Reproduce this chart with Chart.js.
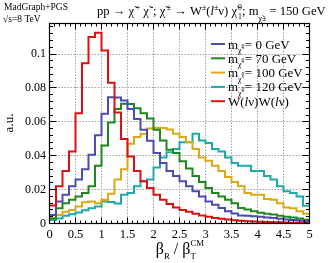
<!DOCTYPE html>
<html><head><meta charset="utf-8">
<script src="https://cdn.jsdelivr.net/npm/chart.js@4.4.1/dist/chart.umd.min.js"></script>
<style>html,body{margin:0;padding:0;background:#fff;}canvas{display:block;}</style>
</head><body>
<canvas id="c" width="332" height="263"></canvas>
<script>
// ---- data ----
const binWidth = 0.125;
const xTickLabels = ['0','0.5','1','1.5','2','2.5','3','3.5','4','4.5','5'];
const yTickLabels = ['0','0.02','0.04','0.06','0.08','0.1'];
const legendMasses = ['0 GeV','70 GeV','100 GeV','120 GeV'];
const m0 = [0.005,0.013,0.017,0.022,0.026,0.032,0.0406,0.052,0.0647,0.0745,0.0743,0.0725,0.0676,0.0616,0.0553,0.0488,0.0416,0.0357,0.031,0.028,0.025,0.022,0.019,0.016,0.013,0.011,0.0092,0.0073,0.0059,0.0047,0.0046,0.0043,0.004,0.0036,0.0032,0.0028,0.0024,0.0021,0.0018,0.0015];
const m70 = [0.003,0.009,0.012,0.014,0.016,0.018,0.022,0.034,0.046,0.0596,0.0675,0.0706,0.0705,0.068,0.065,0.062,0.0553,0.049,0.0435,0.0416,0.0367,0.0325,0.028,0.0245,0.021,0.018,0.016,0.014,0.012,0.0092,0.0082,0.0073,0.0063,0.0058,0.0053,0.0045,0.004,0.0035,0.003,0.0022];
const m100 = [0.003,0.005,0.007,0.008,0.010,0.0125,0.013,0.012,0.014,0.0175,0.026,0.032,0.047,0.051,0.053,0.056,0.0565,0.0563,0.0555,0.053,0.051,0.048,0.044,0.039,0.037,0.034,0.031,0.0275,0.0245,0.022,0.018,0.017,0.017,0.0145,0.014,0.012,0.0095,0.009,0.0073,0.0058];
const m120 = [0.002,0.003,0.0045,0.0055,0.0065,0.0078,0.009,0.010,0.013,0.0127,0.0118,0.017,0.018,0.022,0.025,0.026,0.033,0.039,0.042,0.044,0.048,0.048,0.053,0.049,0.0475,0.044,0.0425,0.039,0.0357,0.034,0.034,0.031,0.031,0.028,0.026,0.022,0.019,0.018,0.016,0.0105];
const ww = [0.0106,0.022,0.031,0.0425,0.065,0.0945,0.110,0.1125,0.102,0.083,0.0655,0.0498,0.0396,0.031,0.025,0.021,0.017,0.014,0.0115,0.0095,0.008,0.007,0.0058,0.0047,0.004,0.0033,0.0028,0.0023,0.0019,0.0016,0.0014,0.0012,0.001,0.0009,0.0008,0.0007,0.0006,0.0005,0.0005,0.0004];

const COLORS = {m0:'#4b4bb0', m70:'#1e881e', m100:'#dca814', m120:'#1eaaaa', ww:'#dd1111'};
const FAM = "'Liberation Serif', 'Times New Roman', serif";

function histPoints(vals){
  const pts = vals.map((v,i)=>({x:i*binWidth, y:v}));
  pts.push({x:vals.length*binWidth, y:vals[vals.length-1]});
  return pts;
}

function drawRich(ctx, parts, x, y, size, align, measureOnly){
  const fnt = p => {
    const small = (p.s==='sub'||p.s==='sup');
    const sz = small ? size*(p.r||0.62) : size;
    return (p.i?'italic ':'') + sz + 'px ' + FAM;
  };
  let w = 0; const xs = [];
  for (const p of parts){
    ctx.font = fnt(p);
    w += (p.g||0)*size;
    xs.push(w);
    if (!p.k) w += ctx.measureText(p.t).width;
  }
  if (measureOnly) return w;
  let x0 = x;
  if (align==='center') x0 = x - w/2; else if (align==='right') x0 = x - w;
  ctx.textBaseline = 'alphabetic'; ctx.textAlign = 'left';
  parts.forEach((p,i)=>{
    ctx.font = fnt(p);
    let dy = 0;
    if (p.s==='sub') dy = size*(p.d!==undefined?p.d:0.3);
    if (p.s==='sup') dy = -size*(p.d!==undefined?p.d:0.4);
    ctx.fillText(p.t, x0+xs[i], y+dy);
  });
  return w;
}

const deco = {
  id:'deco',
  beforeDatasetsDraw(chart){
    const {ctx, chartArea:a, scales:{x,y}} = chart;
    ctx.save();
    ctx.strokeStyle = '#a0a0a0'; ctx.lineWidth = 1; ctx.setLineDash([1.5,1.5]);
    xTickLabels.forEach(t=>{
      const v = parseFloat(t); if (v<=0 || v>=5) return;
      const px = Math.round(x.getPixelForValue(v)-0.5)+0.5;
      ctx.beginPath(); ctx.moveTo(px,a.top); ctx.lineTo(px,a.bottom); ctx.stroke();
    });
    yTickLabels.forEach(t=>{
      const v = parseFloat(t); if (v<=0) return;
      const py = Math.round(y.getPixelForValue(v)-0.5)+0.5;
      ctx.beginPath(); ctx.moveTo(a.left,py); ctx.lineTo(a.right,py); ctx.stroke();
    });
    ctx.restore();
  },
  afterDraw(chart){
    const {ctx, chartArea:a, scales:{x,y}} = chart;
    ctx.save();
    ctx.strokeStyle = '#000'; ctx.lineWidth = 1;
    const tick = (x1,y1,x2,y2)=>{ctx.beginPath();ctx.moveTo(x1,y1);ctx.lineTo(x2,y2);ctx.stroke();};
    for (let i=0;i<=50;i++){
      const v = i/10; const major = (i%5===0);
      const px = Math.round(x.getPixelForValue(v)-0.5)+0.5;
      const L = major?6:3;
      tick(px,a.bottom,px,a.bottom-L);
      tick(px,a.top,px,a.top+L);
    }
    for (let i=0;i<=29;i++){
      const v = i*0.004; if (v>0.118) break; const major = (i%5===0);
      const py = Math.round(y.getPixelForValue(v)-0.5)+0.5;
      const L = major?7:3.5;
      tick(a.left,py,a.left+L,py);
      tick(a.right,py,a.right-L,py);
    }
    ctx.lineWidth = 1.2;
    ctx.strokeRect(a.left, a.top, a.right-a.left, a.bottom-a.top);
    ctx.fillStyle = '#000';
    ctx.font = '9.5px ' + FAM; ctx.textBaseline='alphabetic'; ctx.textAlign='left';
    ctx.fillText('MadGraph+PGS', 4, 10);
    ctx.fillText('\u221As=8 TeV', 3, 22);
    // title
    const title = [
      {t:'pp \u2192 \u03C7\u0303'},{t:'+',s:'sup',g:0.12},{t:' \u03C7\u0303'},{t:'-',s:'sup',g:0.12},{t:'; \u03C7\u0303'},{t:'\u00B1',s:'sup',g:0.12},
      {t:' \u2192 W'},{t:'\u00B1',s:'sup'},{t:'('},{t:'l',i:true},{t:'\u00B1',s:'sup'},{t:'\u03BD) \u03C7\u0303'},
      {t:'1',s:'sub',k:true,g:0.08},{t:'0',s:'sup'},{t:'; m'},{t:'\u03C7\u0303\u00B1',s:'sub',d:0.45},{t:' = 150 GeV'}
    ];
    let fs = 12;
    const tw = drawRich(ctx, title, 0, 0, fs, 'left', true);
    fs = fs * 229 / tw;
    drawRich(ctx, title, 97, 15, fs, 'left');
    // y title
    ctx.save();
    ctx.translate(13, 123); ctx.rotate(-Math.PI/2);
    ctx.font = '13px ' + FAM; ctx.textAlign='center'; ctx.textBaseline='alphabetic';
    ctx.fillText('a.u.', 0, 0);
    ctx.restore();
    // x title
    drawRich(ctx, [{t:'\u03B2'},{t:'R',s:'sub',r:0.55},{t:' / \u03B2'},{t:'T',s:'sub',k:true,r:0.55},{t:'CM',s:'sup',r:0.55,d:0.5}], 180, 254, 16, 'center');
    // legend
    const entries = [
      {c:COLORS.m0, m:legendMasses[0]},{c:COLORS.m70, m:legendMasses[1]},
      {c:COLORS.m100, m:legendMasses[2]},{c:COLORS.m120, m:legendMasses[3]},{c:COLORS.ww, ww:true}
    ];
    entries.forEach((e,i)=>{
      const yy = 44 + i*14.3;
      ctx.strokeStyle = e.c; ctx.lineWidth = 2;
      ctx.beginPath(); ctx.moveTo(211, yy); ctx.lineTo(225, yy); ctx.stroke();
      ctx.fillStyle = '#000';
      if (e.ww){
        drawRich(ctx,[{t:'W('},{t:'l',i:true},{t:'\u03BD)W('},{t:'l',i:true},{t:'\u03BD)'}], 228, yy+4.5, 13, 'left');
      } else {
        drawRich(ctx,[{t:'m'},{t:'\u03C7\u0303',s:'sub',r:0.6,d:0.35},{t:'0',s:'sup',r:0.45,d:0.05,k:true},{t:' = '+e.m}], 228, yy+4.5, 13, 'left');
      }
    });
    ctx.restore();
  }
};

const fmt = v => String(Math.round(v*1000)/1000);

new Chart(document.getElementById('c'), {
  type:'line',
  data:{ datasets:[
    {label:'WW', data:histPoints(ww), borderColor:COLORS.ww},
    {label:'m0', data:histPoints(m0), borderColor:COLORS.m0},
    {label:'m70', data:histPoints(m70), borderColor:COLORS.m70},
    {label:'m100', data:histPoints(m100), borderColor:COLORS.m100},
    {label:'m120', data:histPoints(m120), borderColor:COLORS.m120}
  ].map(d=>Object.assign(d,{stepped:true, pointRadius:0, borderWidth:2, fill:false, tension:0}))},
  options:{
    responsive:false, animation:false, devicePixelRatio:1,
    layout:{padding:{left:0,right:22.5,top:23.5,bottom:0}},
    plugins:{legend:{display:false}, tooltip:{enabled:false}, title:{display:false}},
    scales:{
      x:{type:'linear', min:0, max:5,
        afterFit:s=>{s.height=39.5;},
        grid:{display:false, drawTicks:false}, border:{display:false},
        ticks:{stepSize:0.5, padding:4, color:'#000', font:{family:FAM, size:12.5}, maxRotation:0,
          callback:(v)=>{const t=fmt(v); return xTickLabels.includes(t)?t:'';}}},
      y:{type:'linear', min:0, max:0.118,
        afterFit:s=>{s.width=49.5;},
        grid:{display:false, drawTicks:false}, border:{display:false},
        ticks:{stepSize:0.02, includeBounds:false, padding:3.5, color:'#000', font:{family:FAM, size:12},
          callback:(v)=>{const t=fmt(v); return yTickLabels.includes(t)?t:'';}}}
    }
  },
  plugins:[deco]
});
</script>
</body></html>
